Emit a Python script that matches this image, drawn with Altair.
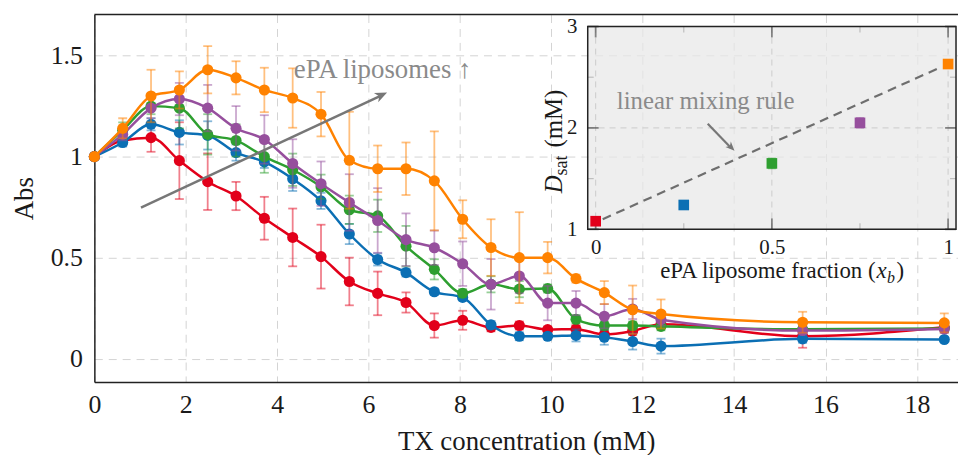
import altair as alt
import pandas as pd

# ---------------- main panel data ----------------
conc = [0.0, 0.62, 1.24, 1.86, 2.48, 3.10, 3.72, 4.34, 4.96, 5.58, 6.20, 6.82,
        7.44, 8.06, 8.68, 9.30, 9.92, 10.54, 11.16, 11.78, 12.40, 15.50, 18.60]

abs_red = [1.00, 1.08, 1.094, 0.98, 0.876, 0.805, 0.695, 0.600, 0.505, 0.382, 0.323, 0.278,
           0.164, 0.190, 0.155, 0.164, 0.144, 0.146, 0.120, 0.137, 0.170, 0.111, 0.155]
err_red = [0.0, 0.02, 0.07, 0.19, 0.14, 0.07, 0.106, 0.143, 0.158, 0.118, 0.108, 0.05,
           0.06, 0.047, 0.02, 0.02, 0.015, 0.02, 0.02, 0.02, 0.02, 0.057, 0.02]

abs_blue = [1.00, 1.07, 1.16, 1.12, 1.105, 1.02, 0.974, 0.89, 0.781, 0.617, 0.491, 0.426,
            0.331, 0.303, 0.167, 0.111, 0.111, 0.115, 0.106, 0.085, 0.062, 0.098, 0.095]
err_blue = [0.0, 0.02, 0.03, 0.06, 0.07, 0.04, 0.03, 0.06, 0.04, 0.05, 0.03, 0.02,
            0.015, 0.015, 0.02, 0.02, 0.015, 0.03, 0.037, 0.04, 0.037, 0.02, 0.01]

abs_green = [1.00, 1.13, 1.25, 1.24, 1.11, 1.08, 1.00, 0.935, 0.851, 0.737, 0.707, 0.557,
             0.442, 0.324, 0.368, 0.344, 0.347, 0.195, 0.164, 0.164, 0.160, 0.145, 0.150]
err_green = [0.0, 0.04, 0.04, 0.10, 0.10, 0.08, 0.08, 0.08, 0.06, 0.07, 0.08, 0.10,
             0.05, 0.02, 0.04, 0.04, 0.02, 0.02, 0.02, 0.02, 0.02, 0.02, 0.02]

abs_purple = [1.00, 1.11, 1.24, 1.285, 1.24, 1.14, 1.085, 0.966, 0.866, 0.773, 0.684, 0.589,
              0.549, 0.470, 0.368, 0.409, 0.275, 0.275, 0.210, 0.246, 0.193, 0.139, 0.147]
err_purple = [0.0, 0.03, 0.05, 0.08, 0.115, 0.11, 0.12, 0.12, 0.11, 0.14, 0.16, 0.13,
              0.085, 0.11, 0.125, 0.085, 0.085, 0.06, 0.06, 0.05, 0.03, 0.02, 0.02]

abs_orange = [1.00, 1.14, 1.30, 1.33, 1.43, 1.39, 1.33, 1.29, 1.21, 0.982, 0.94, 0.94,
              0.88, 0.69, 0.55, 0.50, 0.50, 0.396, 0.327, 0.242, 0.221, 0.180, 0.177]
err_orange = [0.0, 0.05, 0.13, 0.092, 0.117, 0.082, 0.11, 0.147, 0.11, 0.24, 0.115, 0.13,
              0.245, 0.094, 0.14, 0.225, 0.078, 0.02, 0.057, 0.12, 0.072, 0.052, 0.047]

series_values = [abs_red, abs_blue, abs_green, abs_purple, abs_orange]
series_errors = [err_red, err_blue, err_green, err_purple, err_orange]
series_colors = ["#e2001a", "#0b6fb4", "#2e9f30", "#964f9d", "#ff8200"]

x_ticks = [0, 2, 4, 6, 8, 10, 12, 14, 16, 18]
y_ticks = [0, 0.5, 1, 1.5]

# annotation (main)
arrow_x = [1.02, 6.25]
arrow_y = [0.747, 1.300]
head_x = [6.406]
head_y = [1.317]
note_x = [4.365]
note_y = [1.391]
note_text = ["ePA liposomes \u2191"]

# ---------------- inset data ----------------
xb = [0.0, 0.25, 0.5, 0.75, 1.0]
dsat = [1.08, 1.24, 1.65, 2.05, 2.63]
dsat_err = [0.04, 0.01, 0.05, 0.05, 0.04]
mix_x = [0.02, 0.98]
mix_y = [1.10, 2.60]
inset_major_x = [0, 0.5, 1]
inset_minor_x = [0.25, 0.75]
inset_major_y = [1, 2, 3]
inset_minor_y = [1.5, 2.5]
inset_frame_x = [-0.0225, 1.0225]
inset_frame_y = [1, 3]
mix_note_x = [0.06]
mix_note_y = [2.185]
mix_arrow_x = [0.318, 0.385]
mix_arrow_y = [2.041, 1.80]
mix_head_x = [0.394]
mix_head_y = [1.776]

W, H = 870, 370
FONT = "Liberation Serif"
INK = "#1a1a1a"

xs = alt.Scale(domain=[0, 18.9], nice=False, zero=False)
ys = alt.Scale(domain=[-0.115, 1.703], nice=False, zero=False)

x_axis = alt.Axis(values=x_ticks, format="~g", grid=True, gridDash=[8, 6], gridColor="#d4d4d4",
                  gridWidth=1, ticks=False, tickSize=0, domainColor="#222", domainWidth=1.5,
                  labelFont=FONT, labelFontSize=26, labelPadding=10, labelColor=INK, labelFlush=False,
                  title="TX concentration (mM)", titleFont=FONT, titleFontSize=27,
                  titleFontWeight="normal", titleColor=INK, titleX=W / 2, titleY=68,
                  titleBaseline="alphabetic", titleAlign="center")
y_axis = alt.Axis(values=y_ticks, format="~g", grid=True, gridDash=[8, 6], gridColor="#d4d4d4",
                  gridWidth=1, ticks=False, tickSize=0, domainColor="#222", domainWidth=1.5,
                  labelFont=FONT, labelFontSize=26, labelPadding=12, labelColor=INK, labelFlush=False,
                  title="Abs", titleFont=FONT, titleFontSize=27, titleFontWeight="normal",
                  titleColor=INK, titleX=-62, titleY=H / 2, titleBaseline="alphabetic",
                  titleAlign="center", titleAngle=270)


def MX(f):
    return alt.X(f"{f}:Q", scale=xs, axis=x_axis)


def MY(f):
    return alt.Y(f"{f}:Q", scale=ys, axis=y_axis)


main_layers = []
for vals, errs, col in zip(series_values, series_errors, series_colors):
    d = pd.DataFrame({"conc": conc, "abs": vals,
                      "lo": [v - e for v, e in zip(vals, errs)],
                      "hi": [v + e for v, e in zip(vals, errs)]})
    base = alt.Chart(d)
    main_layers.append(base.mark_rule(color=col, opacity=0.5, strokeWidth=1.8)
                       .encode(x=MX("conc"), y=MY("lo"), y2="hi:Q"))
    main_layers.append(base.mark_tick(color=col, opacity=0.5, orient="horizontal", size=9, thickness=1.8)
                       .encode(x=MX("conc"), y=MY("hi")))
    main_layers.append(base.mark_tick(color=col, opacity=0.5, orient="horizontal", size=9, thickness=1.8)
                       .encode(x=MX("conc"), y=MY("lo")))
    main_layers.append(base.mark_line(color=col, strokeWidth=2.5, interpolate="monotone")
                       .encode(x=MX("conc"), y=MY("abs")))
    main_layers.append(base.mark_circle(color=col, size=125, opacity=1)
                       .encode(x=MX("conc"), y=MY("abs")))

arrow_df = pd.DataFrame({"conc": arrow_x, "abs": arrow_y})
head_df = pd.DataFrame({"conc": head_x, "abs": head_y})
note_df = pd.DataFrame({"conc": note_x, "abs": note_y, "t": note_text})
ARROW_PATH = "M0,0 L-1,-0.42 L-0.72,0 L-1,0.42 Z"

main_layers.append(alt.Chart(arrow_df).mark_line(color="#777", strokeWidth=2.5)
                   .encode(x=MX("conc"), y=MY("abs")))
main_layers.append(alt.Chart(head_df).mark_point(shape=ARROW_PATH, filled=True, color="#777",
                                                 opacity=1, size=600, angle=335)
                   .encode(x=MX("conc"), y=MY("abs")))
main_layers.append(alt.Chart(note_df).mark_text(font=FONT, fontSize=27, color="#8a8a8a",
                                                align="left", baseline="alphabetic")
                   .encode(x=MX("conc"), y=MY("abs"), text="t:N"))
# top frame line
main_layers.append(alt.Chart(pd.DataFrame({"a": [0]})).mark_rule(color="#222", strokeWidth=1.5)
                   .encode(x=alt.value(0), x2=alt.value(W), y=alt.value(0)))

main = alt.layer(*main_layers)

# ---------------- inset ----------------
xis = alt.Scale(domain=inset_frame_x, range=[497, 868], nice=False, zero=False)
yis = alt.Scale(domain=inset_frame_y, range=[216.3, 12], nice=False, zero=False)
xi_axis = alt.Axis(orient="bottom", offset=-153.7, values=inset_major_x, format="~g", grid=False,
                   ticks=False, tickSize=0, domain=False, labelFont=FONT, labelFontSize=21,
                   labelPadding=7, labelColor=INK, labelFlush=False, title=None)
yi_axis = alt.Axis(orient="left", offset=-497, values=inset_major_y, format="~g", grid=False,
                   ticks=False, tickSize=0, domain=False, labelFont=FONT, labelFontSize=21,
                   labelPadding=11, labelColor=INK, labelFlush=False, title=None)


def IX(f):
    return alt.X(f"{f}:Q", scale=xis, axis=xi_axis)


def IY(f):
    return alt.Y(f"{f}:Q", scale=yis, axis=yi_axis)


frame_df = pd.DataFrame({"x0": [inset_frame_x[0]], "x1": [inset_frame_x[1]],
                         "y0": [inset_frame_y[0]], "y1": [inset_frame_y[1]]})
gridx_df = pd.DataFrame({"x": inset_major_x, "y0": [inset_frame_y[0]] * 3, "y1": [inset_frame_y[1]] * 3})
gridy_df = pd.DataFrame({"y": [2], "x0": [inset_frame_x[0]], "x1": [inset_frame_x[1]]})

inset_layers = []
inset_layers.append(alt.Chart(frame_df).mark_rect(fill="#e8e8e8", fillOpacity=0.72)
                    .encode(x=IX("x0"), x2="x1:Q", y=IY("y0"), y2="y1:Q"))
inset_layers.append(alt.Chart(gridx_df).mark_rule(color="#cccccc", strokeDash=[6, 5], strokeWidth=1)
                    .encode(x=IX("x"), y=IY("y0"), y2="y1:Q"))
inset_layers.append(alt.Chart(gridy_df).mark_rule(color="#cccccc", strokeDash=[6, 5], strokeWidth=1)
                    .encode(y=IY("y"), x=IX("x0"), x2="x1:Q"))

# inward ticks
for vals, big in ((inset_major_x, True), (inset_minor_x, False)):
    L = 11 if big else 6
    c = "#555" if big else "#aaa"
    n = len(vals)
    for yv, off in ((inset_frame_y[1], L / 2), (inset_frame_y[0], -L / 2)):
        td = pd.DataFrame({"x": vals, "y": [yv] * n})
        inset_layers.append(alt.Chart(td).mark_tick(orient="vertical", size=L, thickness=1.8 if big else 1.2,
                                                    color=c, yOffset=off)
                            .encode(x=IX("x"), y=IY("y")))
for vals, big in ((inset_major_y, True), (inset_minor_y, False)):
    L = 11 if big else 6
    c = "#555" if big else "#aaa"
    n = len(vals)
    for xv, off in ((inset_frame_x[0], L / 2), (inset_frame_x[1], -L / 2)):
        td = pd.DataFrame({"y": vals, "x": [xv] * n})
        inset_layers.append(alt.Chart(td).mark_tick(orient="horizontal", size=L, thickness=1.8 if big else 1.2,
                                                    color=c, xOffset=off)
                            .encode(x=IX("x"), y=IY("y")))

inset_layers.append(alt.Chart(frame_df).mark_rect(fill=None, filled=False, stroke="#222", strokeWidth=1.5)
                    .encode(x=IX("x0"), x2="x1:Q", y=IY("y0"), y2="y1:Q"))

mix_df = pd.DataFrame({"x": mix_x, "y": mix_y})
inset_layers.append(alt.Chart(mix_df).mark_line(color="#6e6e6e", strokeWidth=2.2, strokeDash=[9, 6])
                    .encode(x=IX("x"), y=IY("y")))

pts_df = pd.DataFrame({"x": xb, "y": dsat,
                       "lo": [v - e for v, e in zip(dsat, dsat_err)],
                       "hi": [v + e for v, e in zip(dsat, dsat_err)],
                       "k": ["0", "0.25", "0.5", "0.75", "1"]})
cscale = alt.Scale(domain=["0", "0.25", "0.5", "0.75", "1"], range=series_colors)
inset_layers.append(alt.Chart(pts_df).mark_rule(opacity=0.5, strokeWidth=1.8)
                    .encode(x=IX("x"), y=IY("lo"), y2="hi:Q", color=alt.Color("k:N", scale=cscale, legend=None)))
inset_layers.append(alt.Chart(pts_df).mark_tick(orient="horizontal", size=8, thickness=1.5, opacity=0.5)
                    .encode(x=IX("x"), y=IY("hi"), color=alt.Color("k:N", scale=cscale, legend=None)))
inset_layers.append(alt.Chart(pts_df).mark_tick(orient="horizontal", size=8, thickness=1.5, opacity=0.5)
                    .encode(x=IX("x"), y=IY("lo"), color=alt.Color("k:N", scale=cscale, legend=None)))
inset_layers.append(alt.Chart(pts_df).mark_square(size=115, opacity=1)
                    .encode(x=IX("x"), y=IY("y"), color=alt.Color("k:N", scale=cscale, legend=None)))

mnote_df = pd.DataFrame({"x": mix_note_x, "y": mix_note_y, "t": ["linear mixing rule"]})
inset_layers.append(alt.Chart(mnote_df).mark_text(font=FONT, fontSize=25, color="#8a8a8a",
                                                  align="left", baseline="alphabetic")
                    .encode(x=IX("x"), y=IY("y"), text="t:N"))
marrow_df = pd.DataFrame({"x": mix_arrow_x, "y": mix_arrow_y})
inset_layers.append(alt.Chart(marrow_df).mark_line(color="#777", strokeWidth=2.2)
                    .encode(x=IX("x"), y=IY("y")))
mhead_df = pd.DataFrame({"x": mix_head_x, "y": mix_head_y})
inset_layers.append(alt.Chart(mhead_df).mark_point(shape=ARROW_PATH, filled=True, color="#777",
                                                   opacity=1, size=330, angle=45)
                    .encode(x=IX("x"), y=IY("y")))

# inset axis titles (composed text with italic math parts)
one = pd.DataFrame({"a": [0]})
TY = 265
inset_layers.append(alt.Chart(one).mark_text(text="ePA liposome fraction (", font=FONT, fontSize=23,
                                             color=INK, align="right", baseline="alphabetic")
                    .encode(x=alt.value(787), y=alt.value(TY)))
inset_layers.append(alt.Chart(one).mark_text(text="x", font=FONT, fontSize=23, fontStyle="italic",
                                             color=INK, align="left", baseline="alphabetic")
                    .encode(x=alt.value(788), y=alt.value(TY)))
inset_layers.append(alt.Chart(one).mark_text(text="b", font=FONT, fontSize=16, fontStyle="italic",
                                             color=INK, align="left", baseline="alphabetic")
                    .encode(x=alt.value(798.5), y=alt.value(TY + 5)))
inset_layers.append(alt.Chart(one).mark_text(text=")", font=FONT, fontSize=23,
                                             color=INK, align="left", baseline="alphabetic")
                    .encode(x=alt.value(808), y=alt.value(TY)))

TX = 471
inset_layers.append(alt.Chart(one).mark_text(text="D", font=FONT, fontSize=25, fontStyle="italic",
                                             color=INK, align="left", baseline="alphabetic", angle=270)
                    .encode(x=alt.value(TX), y=alt.value(180)))
inset_layers.append(alt.Chart(one).mark_text(text="sat", font=FONT, fontSize=18,
                                             color=INK, align="left", baseline="alphabetic", angle=270)
                    .encode(x=alt.value(TX + 5), y=alt.value(162)))
inset_layers.append(alt.Chart(one).mark_text(text="(mM)", font=FONT, fontSize=25,
                                             color=INK, align="left", baseline="alphabetic", angle=270)
                    .encode(x=alt.value(TX), y=alt.value(134)))

inset = alt.layer(*inset_layers)

chart = (alt.layer(main, inset)
         .resolve_scale(x="independent", y="independent")
         .properties(width=W, height=H,
                     autosize=alt.AutoSizeParams(type="none"),
                     padding={"left": 87, "top": 5, "right": 0, "bottom": 72})
         .configure_view(stroke=None))

chart.save("out.html", embed_options={"renderer": "svg", "actions": False})
